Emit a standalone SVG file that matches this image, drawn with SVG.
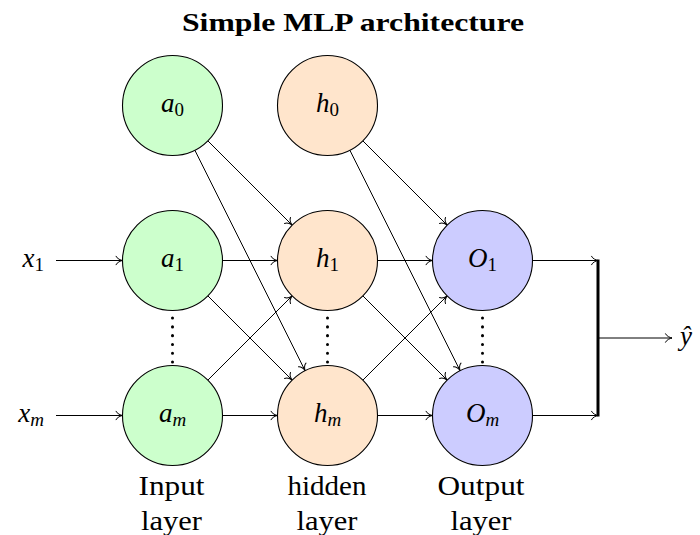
<svg xmlns="http://www.w3.org/2000/svg" width="700" height="535" viewBox="0 0 700 535">
  <style>
    .node circle { stroke: #000; stroke-width: 1.1; }
    .in circle { fill: #ccffcc; }
    .hid circle { fill: #ffe5cc; }
    .out circle { fill: #ccccff; }
    .math { font-family: "Liberation Serif", "DejaVu Serif", serif; font-style: italic; font-size: 27px; fill: #000; }
    .sub { font-style: normal; font-size: 19px; }
    .subi { font-size: 19px; }
    .lbl { font-family: "Liberation Serif", "DejaVu Serif", serif; font-size: 27px; fill: #000; text-anchor: middle; }
    .title { font-family: "Liberation Serif", "DejaVu Serif", serif; font-weight: bold; font-size: 26px; fill: #000; text-anchor: middle; }
    .edge { stroke: #000; stroke-width: 1; fill: none; marker-end: url(#to); }
    .dots { stroke: #000; stroke-width: 3; stroke-dasharray: 0.1 8.7; stroke-linecap: round; fill: none; }
  </style>
  <defs>
    <!-- open curved arrow tip -->
    <marker id="to" markerUnits="userSpaceOnUse" markerWidth="12" markerHeight="12" viewBox="-8 -6 10 12" refX="0" refY="0" orient="auto">
      <path d="M -6.5,-4.2 C -5.6,-1.8 -1.6,-0.3 0,0 C -1.6,0.3 -5.6,1.8 -6.5,4.2" stroke="#000" stroke-width="1" fill="none" stroke-linecap="round"/>
    </marker>
  </defs>

  <text class="title" x="353" y="31" textLength="342" lengthAdjust="spacingAndGlyphs">Simple MLP architecture</text>

  <!-- connectors -->
  <g id="connectors">
    <line class="edge" x1="56" y1="260.5" x2="122.5" y2="260.5"/>
    <line class="edge" x1="56" y1="415.5" x2="122.5" y2="415.5"/>
    <line class="edge" x1="207.86" y1="140.86" x2="292.14" y2="225.14"/>
    <line class="edge" x1="194.86" y1="150.22" x2="305.14" y2="370.78"/>
    <line class="edge" x1="362.86" y1="140.86" x2="447.14" y2="225.14"/>
    <line class="edge" x1="349.86" y1="150.22" x2="460.14" y2="370.78"/>
    <line class="edge" x1="222.5" y1="260.5" x2="277.5" y2="260.5"/>
    <line class="edge" x1="207.86" y1="295.86" x2="292.14" y2="380.14"/>
    <line class="edge" x1="207.86" y1="380.14" x2="292.14" y2="295.86"/>
    <line class="edge" x1="222.5" y1="415.5" x2="277.5" y2="415.5"/>
    <line class="edge" x1="377.5" y1="260.5" x2="432.5" y2="260.5"/>
    <line class="edge" x1="362.86" y1="295.86" x2="447.14" y2="380.14"/>
    <line class="edge" x1="362.86" y1="380.14" x2="447.14" y2="295.86"/>
    <line class="edge" x1="377.5" y1="415.5" x2="432.5" y2="415.5"/>
    <line class="edge" x1="532.5" y1="260.5" x2="598" y2="260.5"/>
    <line class="edge" x1="532.5" y1="415.5" x2="598" y2="415.5"/>
    <line x1="598" y1="259.5" x2="598" y2="416.5" stroke="#000" stroke-width="3"/>
    <line class="edge" x1="598" y1="338" x2="672" y2="338"/>
    <line class="dots" x1="172.5" y1="318" x2="172.5" y2="362"/>
    <line class="dots" x1="327.5" y1="318" x2="327.5" y2="362"/>
    <line class="dots" x1="482.5" y1="318" x2="482.5" y2="362"/>
  </g>

  <!-- input layer -->
  <g id="a0" class="node in">
    <circle cx="172.5" cy="105.5" r="50"/>
    <text class="math" x="172.5" y="111.5" text-anchor="middle">a<tspan class="sub" dy="4">0</tspan></text>
  </g>
  <g id="a1" class="node in">
    <circle cx="172.5" cy="260.5" r="50"/>
    <text class="math" x="172.5" y="266.5" text-anchor="middle">a<tspan class="sub" dy="4">1</tspan></text>
  </g>
  <g id="am" class="node in">
    <circle cx="172.5" cy="415.5" r="50"/>
    <text class="math" x="172.5" y="421.5" text-anchor="middle">a<tspan class="subi" dy="4">m</tspan></text>
  </g>

  <!-- hidden layer -->
  <g id="h0" class="node hid">
    <circle cx="327.5" cy="105.5" r="50"/>
    <text class="math" x="327.5" y="111.5" text-anchor="middle">h<tspan class="sub" dy="4">0</tspan></text>
  </g>
  <g id="h1" class="node hid">
    <circle cx="327.5" cy="260.5" r="50"/>
    <text class="math" x="327.5" y="266.5" text-anchor="middle">h<tspan class="sub" dy="4">1</tspan></text>
  </g>
  <g id="hm" class="node hid">
    <circle cx="327.5" cy="415.5" r="50"/>
    <text class="math" x="327.5" y="421.5" text-anchor="middle">h<tspan class="subi" dy="4">m</tspan></text>
  </g>

  <!-- output layer -->
  <g id="O1" class="node out">
    <circle cx="482.5" cy="260.5" r="50"/>
    <text class="math" x="482.5" y="266.5" text-anchor="middle">O<tspan class="sub" dy="4">1</tspan></text>
  </g>
  <g id="Om" class="node out">
    <circle cx="482.5" cy="415.5" r="50"/>
    <text class="math" x="482.5" y="421.5" text-anchor="middle">O<tspan class="subi" dy="4">m</tspan></text>
  </g>

  <!-- inputs and output -->
  <g id="x1">
    <text class="math" x="44" y="266.5" text-anchor="end">x<tspan class="sub" dy="4">1</tspan></text>
  </g>
  <g id="xm">
    <text class="math" x="44" y="421.5" text-anchor="end">x<tspan class="subi" dy="4">m</tspan></text>
  </g>
  <g id="yhat">
    <text class="math" x="680" y="345">ŷ</text>
  </g>

  <!-- layer captions -->
  <g id="captions">
    <text class="lbl" x="171.5" y="495" textLength="66" lengthAdjust="spacingAndGlyphs">Input</text>
    <text class="lbl" x="171.5" y="530" textLength="61" lengthAdjust="spacingAndGlyphs">layer</text>
    <text class="lbl" x="327" y="495" textLength="79" lengthAdjust="spacingAndGlyphs">hidden</text>
    <text class="lbl" x="327" y="530" textLength="61" lengthAdjust="spacingAndGlyphs">layer</text>
    <text class="lbl" x="481" y="495" textLength="87" lengthAdjust="spacingAndGlyphs">Output</text>
    <text class="lbl" x="481" y="530" textLength="61" lengthAdjust="spacingAndGlyphs">layer</text>
  </g>
</svg>
